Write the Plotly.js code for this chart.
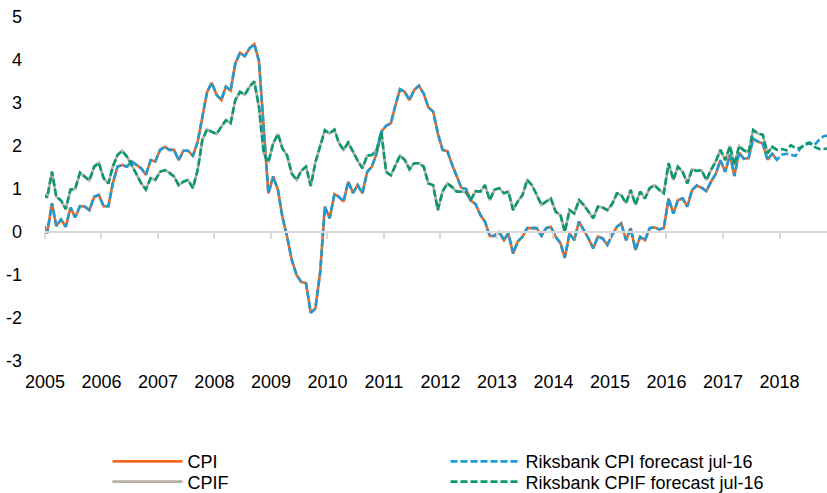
<!DOCTYPE html>
<html>
<head>
<meta charset="utf-8">
<script src="https://cdn.plot.ly/plotly-3.0.1.min.js"></script>
<style>
  html, body { margin: 0; padding: 0; background: #fff; }
  #chart { width: 827px; height: 493px; }
</style>
</head>
<body>
<div id="chart"></div>
<script>
// Monthly observations, first month = Dec 2004
const firstYear = 2004;
const firstMonth = 12;

const cpi = [
  0.24, -0.03, 0.67, 0.14, 0.29, 0.12, 0.57, 0.34, 0.60, 0.59, 0.51, 0.82, 0.86,
  0.60, 0.60, 1.13, 1.52, 1.56, 1.52, 1.64, 1.56, 1.48, 1.33, 1.67, 1.64,
  1.91, 1.98, 1.91, 1.91, 1.67, 1.89, 1.89, 1.77, 2.10, 2.67, 3.26, 3.47,
  3.19, 3.07, 3.38, 3.29, 3.92, 4.17, 4.09, 4.27, 4.37, 3.98, 2.45, 0.90,
  1.29, 0.98, 0.36, -0.11, -0.65, -1.00, -1.16, -1.19, -1.88, -1.78, -0.93, 0.59,
  0.32, 0.88, 0.82, 0.71, 1.17, 0.91, 1.09, 0.90, 1.40, 1.52, 1.83, 2.33,
  2.47, 2.53, 2.93, 3.32, 3.26, 3.07, 3.30, 3.40, 3.22, 2.90, 2.80, 2.30,
  1.91, 1.88, 1.58, 1.32, 1.03, 1.00, 0.73, 0.65, 0.40, 0.24, -0.09, -0.09,
  0.00, -0.19, -0.03, -0.50, -0.22, -0.11, 0.09, 0.09, 0.09, -0.09, 0.09, 0.12,
  -0.11, -0.26, -0.60, -0.03, -0.19, 0.24, 0.05, -0.15, -0.38, -0.11, -0.15, -0.30,
  -0.07, 0.12, 0.20, -0.19, 0.09, -0.42, -0.11, -0.19, 0.09, 0.11, 0.06, 0.09,
  0.78, 0.43, 0.74, 0.78, 0.59, 0.98, 1.08, 1.03, 0.95, 1.17, 1.35, 1.67,
  1.40, 1.80, 1.30, 1.85, 1.70, 1.72, 2.17, 2.10, 2.06, 1.68, 1.82, 1.68
];

const cpif = [
  0.90, 0.80, 1.40, 0.82, 0.73, 0.53, 0.99, 1.00, 1.38, 1.29, 1.20, 1.52, 1.61,
  1.25, 1.13, 1.52, 1.79, 1.89, 1.75, 1.56, 1.33, 1.13, 0.99, 1.25, 1.21,
  1.40, 1.44, 1.38, 1.29, 1.09, 1.17, 1.21, 1.02, 1.44, 2.14, 2.39, 2.33,
  2.28, 2.45, 2.60, 2.53, 3.07, 3.26, 3.19, 3.38, 3.50, 2.91, 1.83, 1.62,
  2.06, 2.28, 1.95, 1.78, 1.36, 1.21, 1.42, 1.52, 1.07, 1.62, 2.00, 2.37,
  2.29, 2.38, 2.08, 1.91, 2.08, 1.85, 1.66, 1.48, 1.78, 1.79, 1.91, 2.33,
  1.40, 1.32, 1.52, 1.78, 1.68, 1.46, 1.60, 1.60, 1.52, 1.13, 1.09, 0.51,
  0.94, 1.13, 1.05, 0.94, 0.94, 0.92, 0.74, 0.95, 0.94, 1.09, 0.74, 0.98,
  1.02, 0.90, 0.94, 0.51, 0.71, 0.86, 1.21, 1.09, 0.86, 0.63, 0.71, 0.78,
  0.47, 0.40, 0.00, 0.51, 0.43, 0.74, 0.63, 0.47, 0.32, 0.59, 0.57, 0.51,
  0.65, 0.90, 0.86, 0.67, 0.98, 0.63, 0.94, 0.78, 1.02, 1.09, 0.98, 0.90,
  1.60, 1.21, 1.52, 1.40, 1.13, 1.46, 1.42, 1.44, 1.21, 1.44, 1.64, 1.91,
  1.67, 2.00, 1.55, 2.00, 1.90, 1.85, 2.37, 2.29, 2.26, 1.83, 1.98, 1.91
];

// Riksbank forecast path beyond the last outcome
const cpiForecastTail  = [1.80, 1.82, 1.80, 1.77, 1.95, 2.03, 2.06, 2.02, 2.15, 2.23, 2.25];
const cpifForecastTail = [1.93, 1.90, 2.02, 1.95, 1.95, 2.05, 2.08, 1.98, 1.93, 1.93, 1.95];

const riksbankCpi  = cpi.concat(cpiForecastTail);
const riksbankCpif = cpif.concat(cpifForecastTail);

const yTickVals = [-3, -2, -1, 0, 1, 2, 3, 4, 5];
const yTickText = ['-3', '-2', '-1', '0', '1', '2', '3', '4', '5'];

const seriesNames = ['CPI', 'CPIF', 'Riksbank CPI forecast jul-16', 'Riksbank CPIF forecast jul-16'];

function monthDates(n) {
  const out = [];
  for (let k = 0; k < n; k++) {
    const idx = (firstMonth - 1) + k;
    const y = firstYear + Math.floor(idx / 12);
    const m = (idx % 12) + 1;
    out.push(y + '-' + String(m).padStart(2, '0') + '-15');
  }
  return out;
}

const dates = monthDates(riksbankCpi.length);
const FONT = 'Liberation Sans, Arial, sans-serif';

const traces = [
  { x: dates.slice(0, cpi.length), y: cpi, name: seriesNames[0], type: 'scatter', mode: 'lines',
    line: { color: '#F5661E', width: 2.6 }, legend: 'legend', legendrank: 1, xaxis: 'x' },
  { x: dates.slice(0, cpif.length), y: cpif, name: seriesNames[1], type: 'scatter', mode: 'lines',
    line: { color: '#B7B0A9', width: 2.6 }, legend: 'legend2', legendrank: 1, xaxis: 'x' },
  { x: dates, y: riksbankCpi, name: seriesNames[2], type: 'scatter', mode: 'lines',
    line: { color: '#1A9CD8', width: 2.6, dash: '7px,3px' }, legend: 'legend', legendrank: 2, xaxis: 'x2' },
  { x: dates, y: riksbankCpif, name: seriesNames[3], type: 'scatter', mode: 'lines',
    line: { color: '#0A9870', width: 2.6, dash: '7px,3px' }, legend: 'legend2', legendrank: 2, xaxis: 'x2' }
];

const xRange = ['2005-01-01', '2018-11-04'];

const legendBase = {
  orientation: 'h', xref: 'container', yref: 'container',
  x: 0.13, xanchor: 'left', yanchor: 'top',
  entrywidth: 253, entrywidthmode: 'pixels',
  itemwidth: 70, tracegroupgap: 0,
  font: { family: FONT, size: 18, color: '#000000' },
  bgcolor: 'rgba(0,0,0,0)'
};

const layout = {
  width: 827, height: 493,
  margin: { l: 45, r: 0, t: 17, b: 132 },
  paper_bgcolor: '#ffffff', plot_bgcolor: '#ffffff',
  font: { family: FONT, size: 18, color: '#000000' },
  showlegend: true,
  xaxis: {
    type: 'date', range: xRange,
    tick0: '2005-01-01', dtick: 'M12', tickformat: '%Y',
    showgrid: false, zeroline: false, showline: false, ticks: '',
    ticklabelstandoff: 8,
    tickfont: { family: FONT, size: 18, color: '#000000' }
  },
  xaxis2: {
    type: 'date', range: xRange, overlaying: 'x', anchor: 'free', position: 0.375,
    tick0: '2005-01-01', dtick: 'M12',
    showgrid: false, zeroline: false, showline: true, linecolor: '#D9D9D9', linewidth: 2,
    ticks: 'outside', ticklen: 6, tickwidth: 2, tickcolor: '#D9D9D9',
    showticklabels: false
  },
  yaxis: {
    range: [-3, 5], tickvals: yTickVals, ticktext: yTickText,
    showgrid: false, zeroline: false, showline: false, ticks: '',
    ticklabelstandoff: 22,
    tickfont: { family: FONT, size: 18, color: '#000000' }
  },
  legend: Object.assign({}, legendBase, { y: 0.101 }),
  legend2: Object.assign({}, legendBase, { y: 0.060 })
};

Plotly.newPlot('chart', traces, layout, { displayModeBar: false, staticPlot: true });
</script>
</body>
</html>
